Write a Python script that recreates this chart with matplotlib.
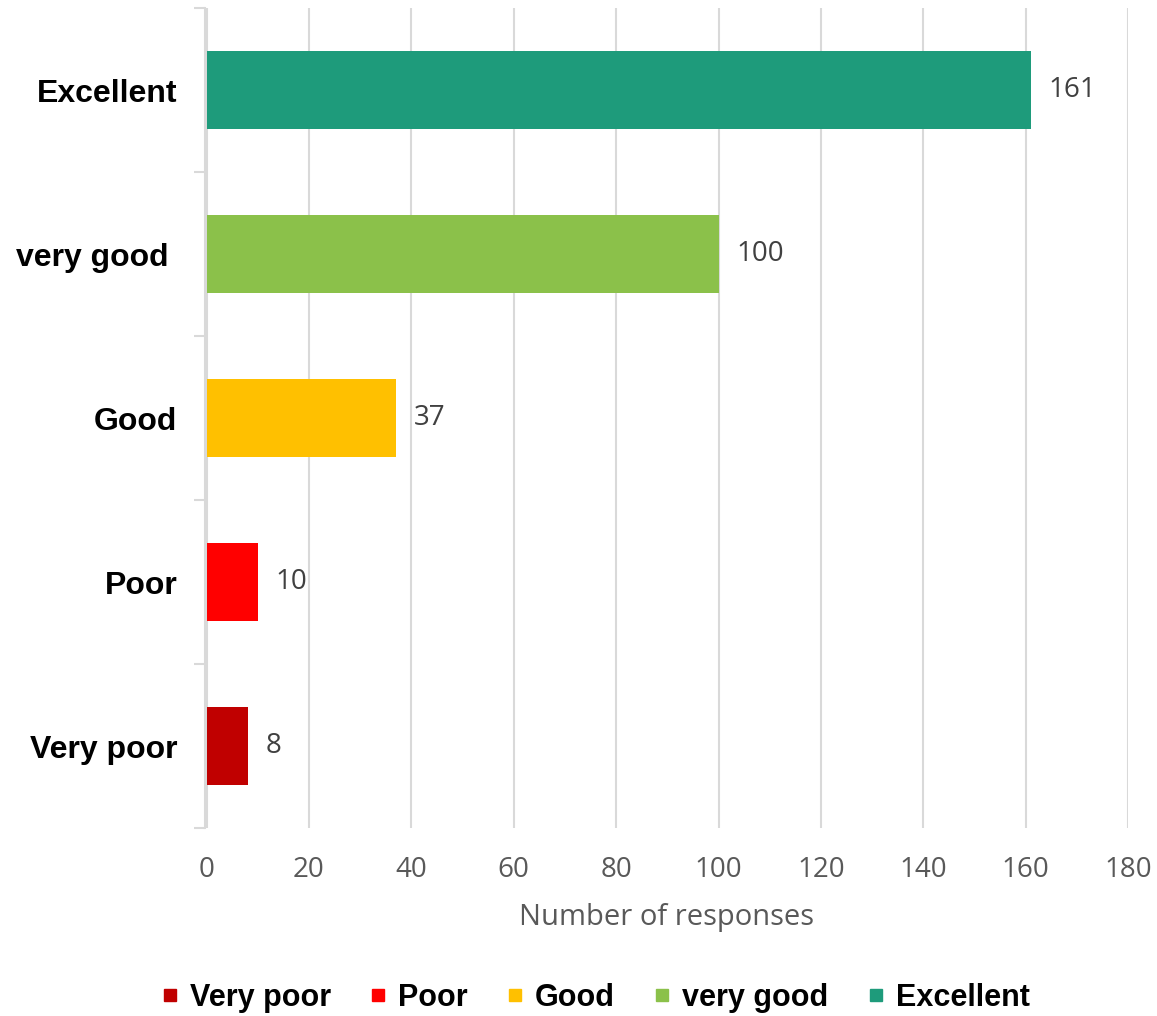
import matplotlib.pyplot as plt
from matplotlib.lines import Line2D
import numpy as np

categories = ['Very poor', 'Poor', 'Good', 'very good', 'Excellent']
axis_labels = ['Very poor', 'Poor', 'Good', 'very good ', 'Excellent']
responses = [8, 10, 37, 100, 161]
colors = ['#C00000', '#FF0000', '#FFC000', '#8BC14A', '#1E9B7B']
x_ticks = [0, 20, 40, 60, 80, 100, 120, 140, 160, 180]

num_font = ['Open Sans', 'DejaVu Sans']
bold_font = ['Liberation Sans', 'DejaVu Sans']

fig = plt.figure(figsize=(11.57, 10.16), dpi=100)
ax = fig.add_axes([0.1772, 0.185, 0.7978, 0.807])

y = np.arange(len(categories))
ax.barh(y, responses, height=0.476, color=colors, zorder=3)

for yi, v in zip(y, responses):
    ax.annotate(str(v), (v, yi), xytext=(13, 0), textcoords='offset points',
                va='center', ha='left', fontsize=20, color='#404040',
                family=num_font)

ax.set_xlim(-0.3, 180)
ax.set_ylim(-0.5, len(categories) - 0.5)
ax.set_xticks(x_ticks)
ax.set_xticklabels([str(t) for t in x_ticks], family=num_font, fontsize=20,
                   color='#595959')
ax.tick_params(axis='x', length=0, pad=20)
ax.grid(axis='x', color='#D9D9D9', linewidth=1.5, zorder=0)

ax.set_yticks(y)
ax.set_yticklabels(axis_labels, family=bold_font, fontweight='bold',
                   fontsize=23, color='black')
ax.tick_params(axis='y', length=0, pad=20)
ax.set_yticks(np.arange(-0.5, len(categories), 1), minor=True)
ax.tick_params(axis='y', which='minor', length=8, color='#D9D9D9', width=1.5)

for s in ['top', 'right', 'bottom']:
    ax.spines[s].set_visible(False)
ax.spines['left'].set_color('#D9D9D9')
ax.spines['left'].set_linewidth(1.5)

ax.set_xlabel('Number of responses', family=num_font, fontsize=21,
              color='#595959', labelpad=14)

handles = [Line2D([], [], marker='s', linestyle='none', markersize=8,
                  markerfacecolor=c, markeredgecolor=c) for c in colors]
fig.legend(handles, categories, loc='center', bbox_to_anchor=(0.515, 0.018),
           ncol=5, frameon=False, handlelength=0.5, handletextpad=0.4,
           columnspacing=1.3,
           prop={'family': bold_font, 'weight': 'bold', 'size': 22})

fig.savefig('out.png', dpi=100)
